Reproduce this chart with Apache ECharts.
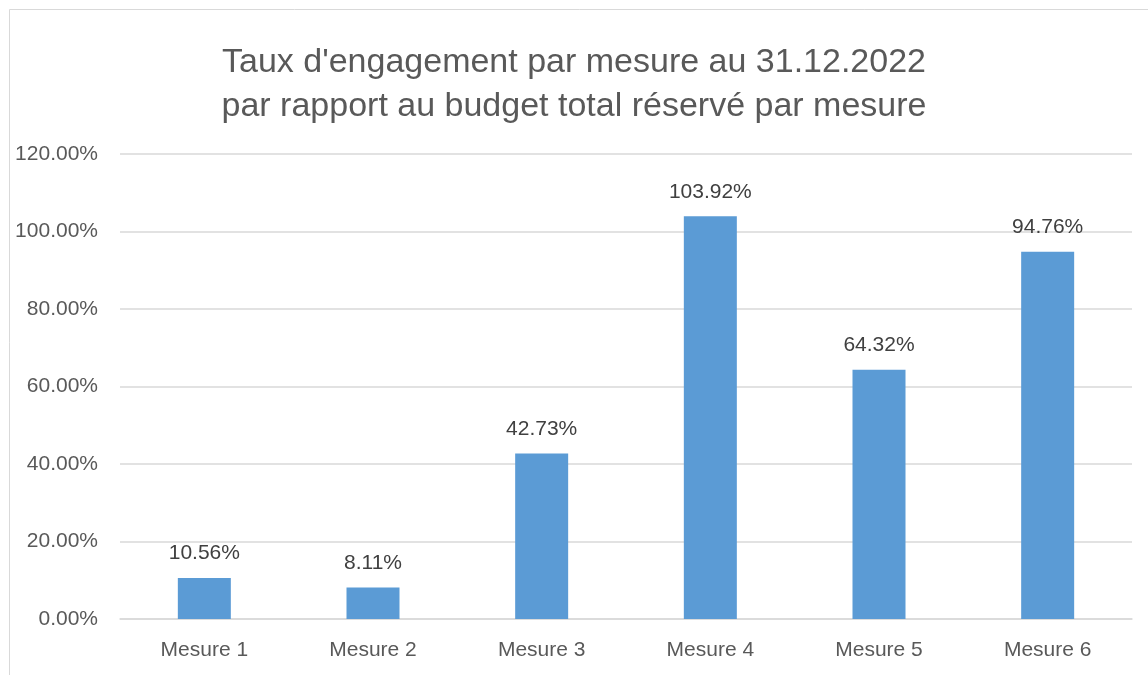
<!DOCTYPE html>
<html><head><meta charset="utf-8">
<script src="https://cdn.jsdelivr.net/npm/echarts@6/dist/echarts.min.js"></script>
<style>html,body{margin:0;padding:0;background:#fff}#c{width:1148px;height:675px}</style>
</head><body><div id="c"></div>
<script>
const titleLines = ["Taux d'engagement par mesure au 31.12.2022", "par rapport au budget total réservé par mesure"];
const categories = ["Mesure 1", "Mesure 2", "Mesure 3", "Mesure 4", "Mesure 5", "Mesure 6"];
const values = [10.56, 8.11, 42.73, 103.92, 64.32, 94.76];
const yTicks = {min: 0, max: 120, interval: 20};

const FONT = "Liberation Sans";
const chart = echarts.init(document.getElementById('c'));
chart.setOption({
  animation: false,
  backgroundColor: '#fff',
  graphic: [{type: 'rect', shape: {x: 9.5, y: 9.5, width: 1200, height: 700}, style: {fill: 'none', stroke: '#d9d9d9', lineWidth: 1}, silent: true}],
  title: {
    text: titleLines.join('\n'),
    left: 'center', top: 36,
    textStyle: {fontFamily: FONT, fontSize: 34, fontWeight: 'normal', color: '#595959', lineHeight: 44}
  },
  grid: {left: 120, right: 16, top: 154, bottom: 56, containLabel: false},
  xAxis: {
    type: 'category', data: categories,
    axisLine: {lineStyle: {color: '#d9d9d9', width: 1.5}},
    axisTick: {show: false},
    axisLabel: {fontFamily: FONT, fontSize: 21, color: '#595959', margin: 21}
  },
  yAxis: {
    type: 'value', min: yTicks.min, max: yTicks.max, interval: yTicks.interval,
    axisLine: {show: false}, axisTick: {show: false},
    splitLine: {lineStyle: {color: '#d9d9d9', width: 1.5}},
    axisLabel: {fontFamily: FONT, fontSize: 21, color: '#595959', margin: 22, formatter: v => v.toFixed(2) + '%'}
  },
  series: [{
    type: 'bar', data: values, barWidth: 53,
    itemStyle: {color: '#5b9bd5'},
    label: {show: true, position: 'top', distance: 14, fontFamily: FONT, fontSize: 21, color: '#404040', formatter: p => p.value.toFixed(2) + '%'}
  }]
});
</script></body></html>
